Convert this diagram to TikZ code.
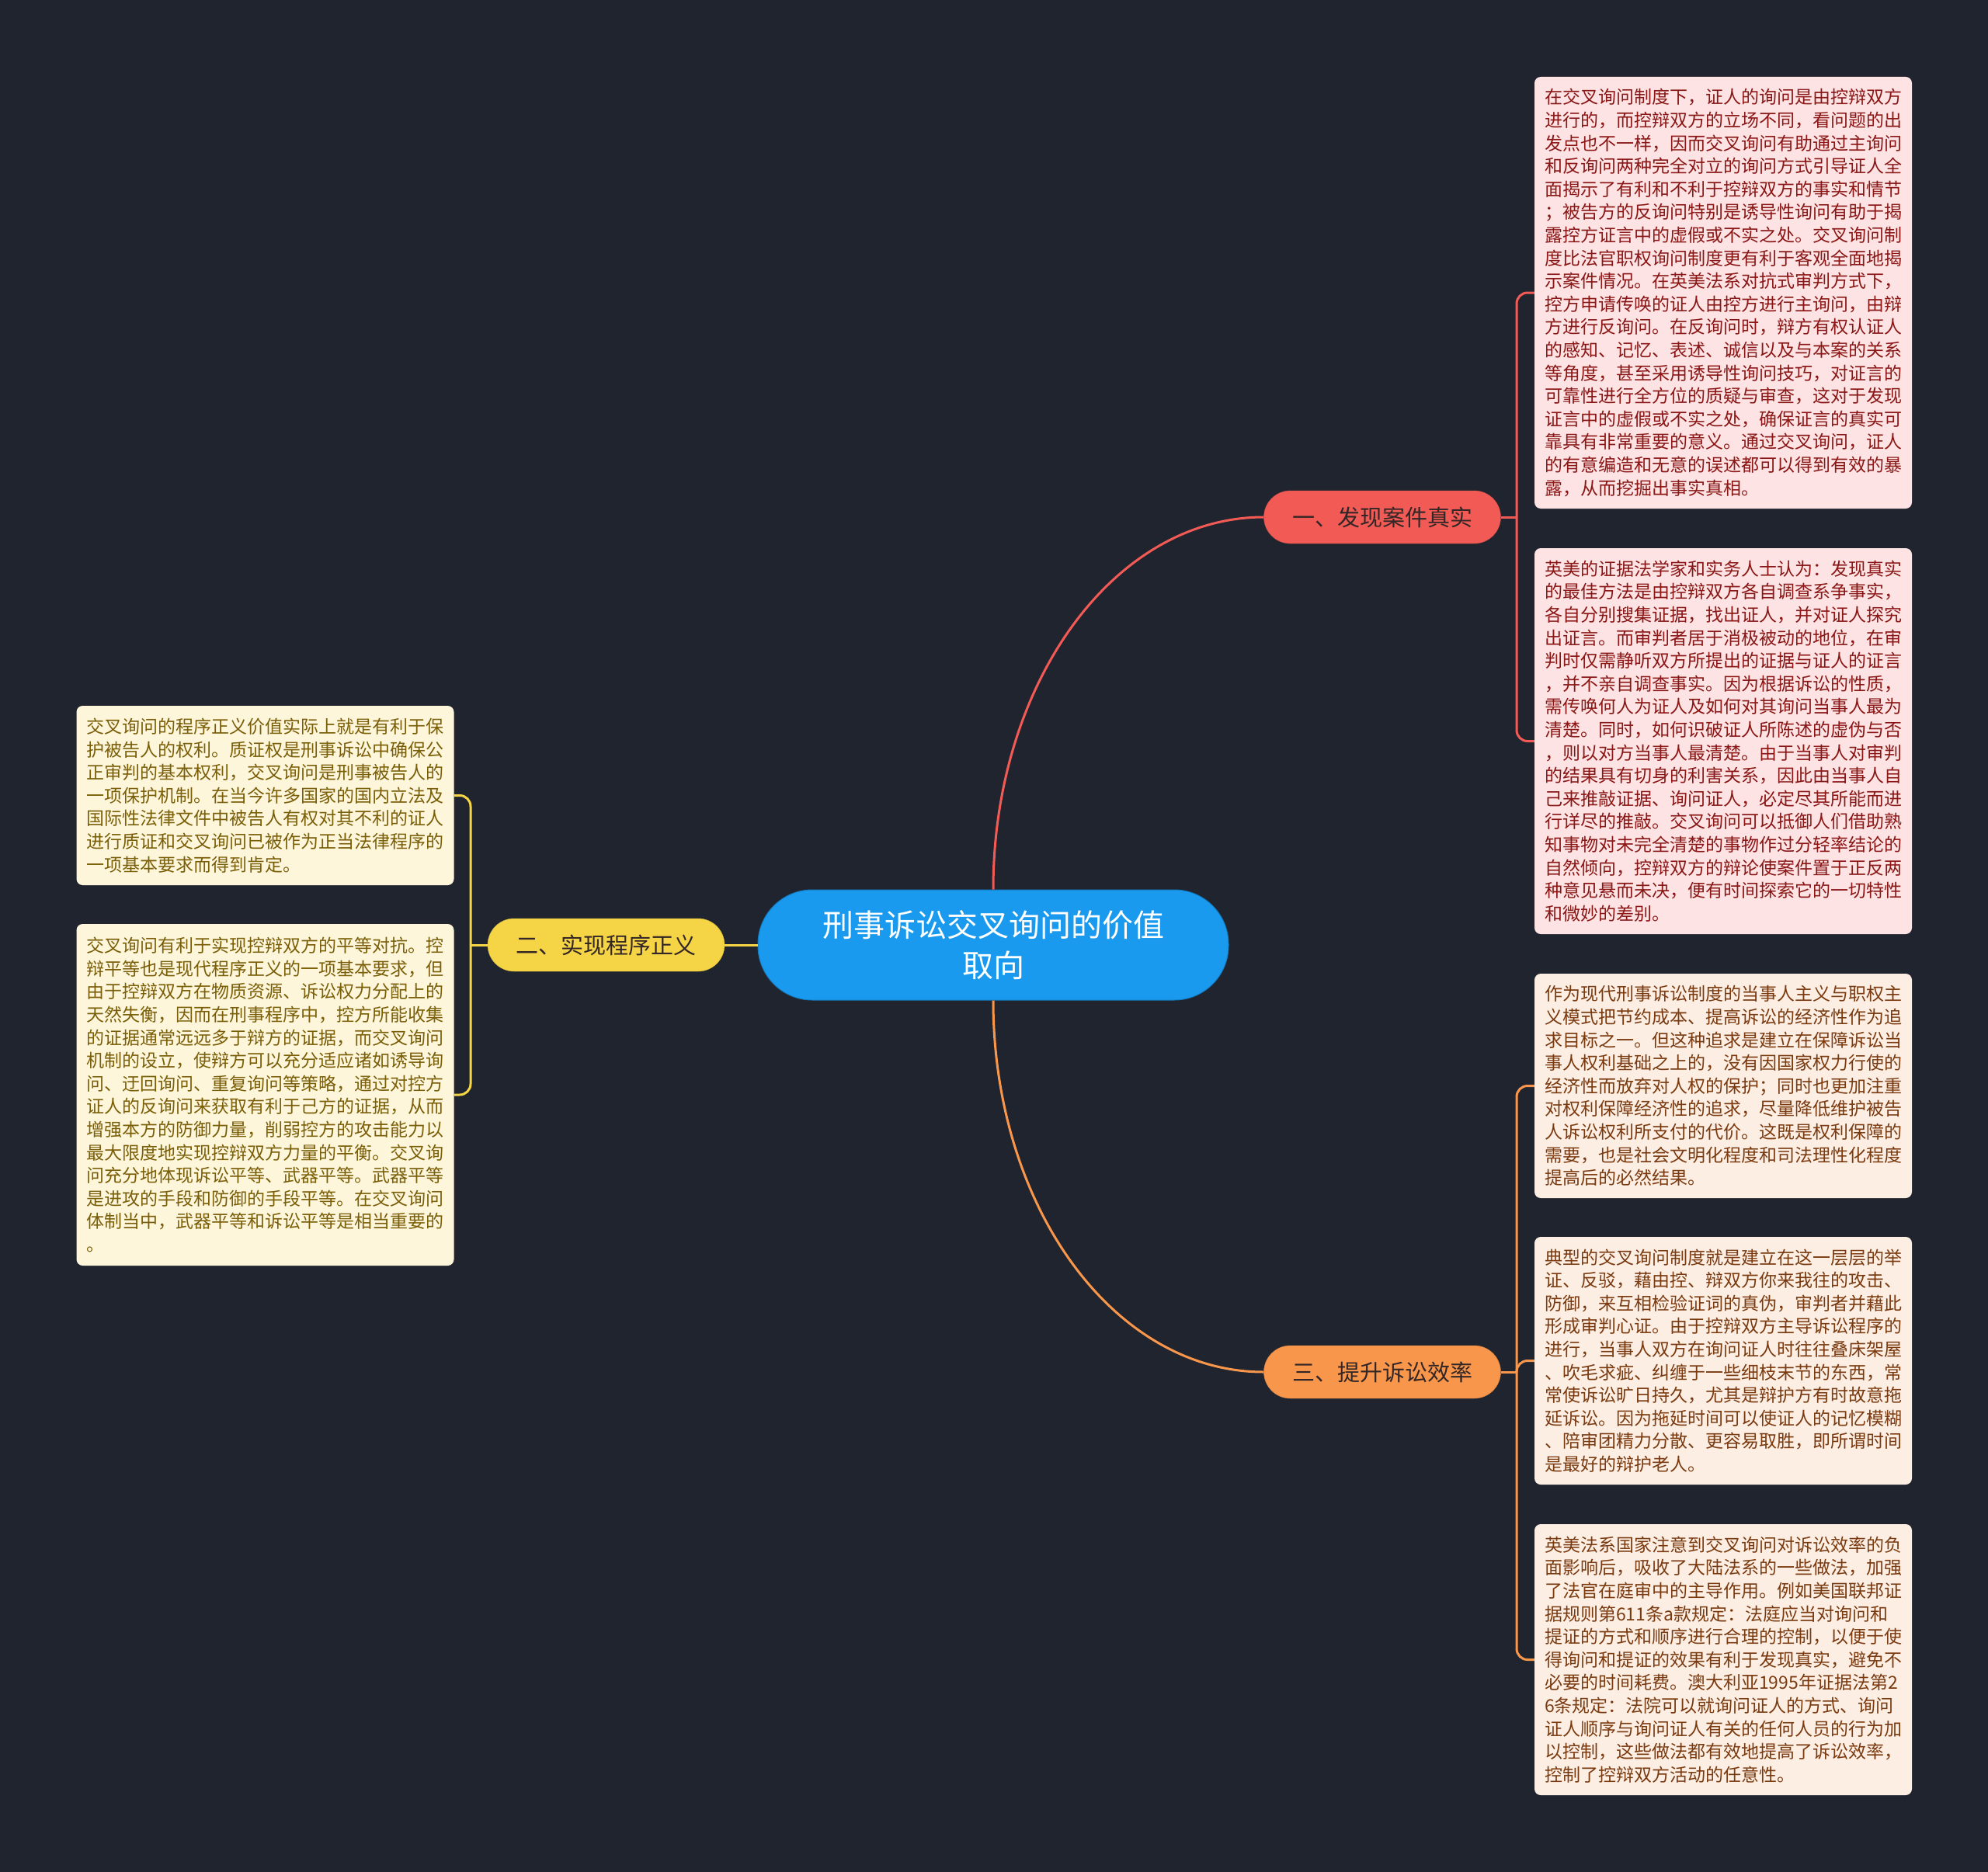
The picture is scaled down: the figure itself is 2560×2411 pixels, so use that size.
\documentclass[tikz,border=0pt]{standalone}
\usepackage{fontspec}
\setmainfont{Noto Sans CJK SC}
\setlength{\parindent}{0pt}
\definecolor{bg}{HTML}{20242F}
\definecolor{cblue}{HTML}{1A9AEF}
\definecolor{cred}{HTML}{F25B55}
\definecolor{cyel}{HTML}{F5D445}
\definecolor{corg}{HTML}{F8964B}
\definecolor{fpink}{HTML}{FDE3E3}
\definecolor{fpeach}{HTML}{FDEEE3}
\definecolor{fcream}{HTML}{FDF6DA}
\definecolor{tred}{HTML}{8A1616}
\definecolor{tbrown}{HTML}{7A3A10}
\definecolor{tolive}{HTML}{7A5E08}
\definecolor{tdark}{HTML}{332626}
\tikzset{
  rootbox/.style={rectangle, rounded corners=70pt, fill=cblue, draw=cblue!80!black, line width=1pt,
    minimum width=606pt, minimum height=142pt, inner sep=0pt, text=white, align=center,
    font=\fontsize{40pt}{52pt}\selectfont},
  branchbox/.style={rectangle, rounded corners=34pt, minimum width=305pt, minimum height=68pt,
    inner sep=0pt, text=tdark, font=\fontsize{29pt}{34pt}\selectfont},
  leafbox/.style={rectangle, rounded corners=8pt, minimum width=486pt, text width=460pt,
    inner sep=0pt, align=left, font=\fontsize{23pt}{29.6pt}\selectfont},
  link/.style={line width=3pt}
}
\begin{document}
\begin{tikzpicture}[x=1pt,y=-1pt]
\fill[bg] (0,0) rectangle (2560,2411);
\useasboundingbox (0,0) rectangle (2560,2411);

% root
\node[rootbox] (c) at (1279,1217) {刑事诉讼交叉询问的价值\\取向};

% branches
\node[branchbox, fill=cred, draw=cred!85!black] (b1) at (1780,666) {一、发现案件真实};
\node[branchbox, fill=cyel, draw=cyel!85!black] (b2) at (780.5,1217) {二、实现程序正义};
\node[branchbox, fill=corg, draw=corg!85!black] (b3) at (1780,1767) {三、提升诉讼效率};

% leaves right (branch 1)
\node[leafbox, fill=fpink, text=tred, minimum height=556pt] (r1) at (2219,377) {在交叉询问制度下，证人的询问是由控辩双方\\
进行的，而控辩双方的立场不同，看问题的出\\
发点也不一样，因而交叉询问有助通过主询问\\
和反询问两种完全对立的询问方式引导证人全\\
面揭示了有利和不利于控辩双方的事实和情节\\
；被告方的反询问特别是诱导性询问有助于揭\\
露控方证言中的虚假或不实之处。交叉询问制\\
度比法官职权询问制度更有利于客观全面地揭\\
示案件情况。在英美法系对抗式审判方式下，\\
控方申请传唤的证人由控方进行主询问，由辩\\
方进行反询问。在反询问时，辩方有权认证人\\
的感知、记忆、表述、诚信以及与本案的关系\\
等角度，甚至采用诱导性询问技巧，对证言的\\
可靠性进行全方位的质疑与审查，这对于发现\\
证言中的虚假或不实之处，确保证言的真实可\\
靠具有非常重要的意义。通过交叉询问，证人\\
的有意编造和无意的误述都可以得到有效的暴\\
露，从而挖掘出事实真相。};

\node[leafbox, fill=fpink, text=tred, minimum height=497pt] (r2) at (2219,954.5) {英美的证据法学家和实务人士认为：发现真实\\
的最佳方法是由控辩双方各自调查系争事实，\\
各自分别搜集证据，找出证人，并对证人探究\\
出证言。而审判者居于消极被动的地位，在审\\
判时仅需静听双方所提出的证据与证人的证言\\
，并不亲自调查事实。因为根据诉讼的性质，\\
需传唤何人为证人及如何对其询问当事人最为\\
清楚。同时，如何识破证人所陈述的虚伪与否\\
，则以对方当事人最清楚。由于当事人对审判\\
的结果具有切身的利害关系，因此由当事人自\\
己来推敲证据、询问证人，必定尽其所能而进\\
行详尽的推敲。交叉询问可以抵御人们借助熟\\
知事物对未完全清楚的事物作过分轻率结论的\\
自然倾向，控辩双方的辩论使案件置于正反两\\
种意见悬而未决，便有时间探索它的一切特性\\
和微妙的差别。};

% leaves right (branch 3)
\node[leafbox, fill=fpeach, text=tbrown, minimum height=289pt] (r3) at (2219,1398.5) {作为现代刑事诉讼制度的当事人主义与职权主\\
义模式把节约成本、提高诉讼的经济性作为追\\
求目标之一。但这种追求是建立在保障诉讼当\\
事人权利基础之上的，没有因国家权力行使的\\
经济性而放弃对人权的保护；同时也更加注重\\
对权利保障经济性的追求，尽量降低维护被告\\
人诉讼权利所支付的代价。这既是权利保障的\\
需要，也是社会文明化程度和司法理性化程度\\
提高后的必然结果。};

\node[leafbox, fill=fpeach, text=tbrown, minimum height=319pt] (r4) at (2219,1752.5) {典型的交叉询问制度就是建立在这一层层的举\\
证、反驳，藉由控、辩双方你来我往的攻击、\\
防御，来互相检验证词的真伪，审判者并藉此\\
形成审判心证。由于控辩双方主导诉讼程序的\\
进行，当事人双方在询问证人时往往叠床架屋\\
、吹毛求疵、纠缠于一些细枝末节的东西，常\\
常使诉讼旷日持久，尤其是辩护方有时故意拖\\
延诉讼。因为拖延时间可以使证人的记忆模糊\\
、陪审团精力分散、更容易取胜，即所谓时间\\
是最好的辩护老人。};

\node[leafbox, fill=fpeach, text=tbrown, minimum height=349pt] (r5) at (2219,2137.5) {英美法系国家注意到交叉询问对诉讼效率的负\\
面影响后，吸收了大陆法系的一些做法，加强\\
了法官在庭审中的主导作用。例如美国联邦证\\
据规则第611条a款规定：法庭应当对询问和\\
提证的方式和顺序进行合理的控制，以便于使\\
得询问和提证的效果有利于发现真实，避免不\\
必要的时间耗费。澳大利亚1995年证据法第2\\
6条规定：法院可以就询问证人的方式、询问\\
证人顺序与询问证人有关的任何人员的行为加\\
以控制，这些做法都有效地提高了诉讼效率，\\
控制了控辩双方活动的任意性。};

% leaves left (branch 2)
\node[leafbox, fill=fcream, text=tolive, minimum height=231pt] (l1) at (341.5,1024.5) {交叉询问的程序正义价值实际上就是有利于保\\
护被告人的权利。质证权是刑事诉讼中确保公\\
正审判的基本权利，交叉询问是刑事被告人的\\
一项保护机制。在当今许多国家的国内立法及\\
国际性法律文件中被告人有权对其不利的证人\\
进行质证和交叉询问已被作为正当法律程序的\\
一项基本要求而得到肯定。};

\node[leafbox, fill=fcream, text=tolive, minimum height=440pt] (l2) at (341.5,1410) {交叉询问有利于实现控辩双方的平等对抗。控\\
辩平等也是现代程序正义的一项基本要求，但\\
由于控辩双方在物质资源、诉讼权力分配上的\\
天然失衡，因而在刑事程序中，控方所能收集\\
的证据通常远远多于辩方的证据，而交叉询问\\
机制的设立，使辩方可以充分适应诸如诱导询\\
问、迂回询问、重复询问等策略，通过对控方\\
证人的反询问来获取有利于己方的证据，从而\\
增强本方的防御力量，削弱控方的攻击能力以\\
最大限度地实现控辩双方力量的平衡。交叉询\\
问充分地体现诉讼平等、武器平等。武器平等\\
是进攻的手段和防御的手段平等。在交叉询问\\
体制当中，武器平等和诉讼平等是相当重要的\\
。};

% split points
\coordinate (s1) at (1953,666);
\coordinate (s2) at (606,1217);
\coordinate (s3) at (1953,1767);

% root to branches
\draw[link, cred] (c.north) .. controls +(0,-265) and +(-193,0) .. (b1.west);
\draw[link, corg] (c.south) .. controls +(0,265) and +(-193,0) .. (b3.west);
\draw[link, cyel] (c.west) -- (b2.east);

% branch 1 to leaves
\draw[link, cred] (b1.east) -- (s1);
\draw[link, cred, rounded corners=14pt] (s1) |- (r1.west);
\draw[link, cred, rounded corners=14pt] (s1) |- (r2.west);

% branch 3 to leaves
\draw[link, corg] (b3.east) -- (s3);
\draw[link, corg, rounded corners=14pt] (s3) |- (r3.west);
\draw[link, corg, rounded corners=14pt] (s3) |- (r4.west);
\draw[link, corg, rounded corners=14pt] (s3) |- (r5.west);

% branch 2 to leaves
\draw[link, cyel] (b2.west) -- (s2);
\draw[link, cyel, rounded corners=14pt] (s2) |- (l1.east);
\draw[link, cyel, rounded corners=14pt] (s2) |- (l2.east);
\end{tikzpicture}
\end{document}
